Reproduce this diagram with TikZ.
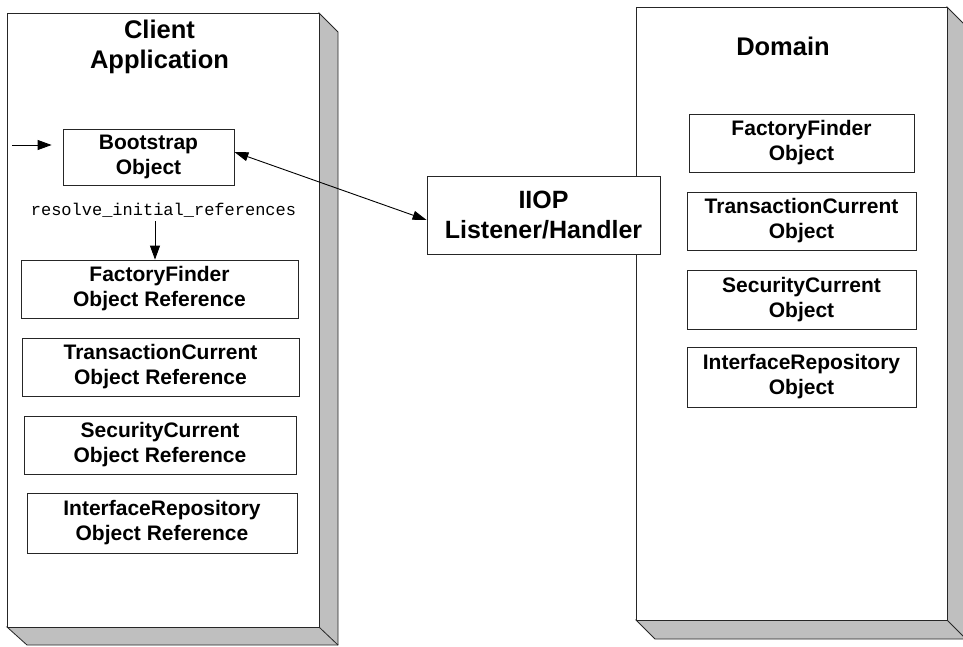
\documentclass[tikz,border=0pt]{standalone}
\usepackage{fontspec}
\setmainfont{Liberation Sans}
\setmonofont{Liberation Mono}
\usetikzlibrary{arrows.meta}
\begin{document}
\begin{tikzpicture}[x=1pt,y=-1pt,
  objbox/.style={draw=black!85, line width=0.8pt, fill=white, align=center, inner sep=0pt,
    font=\fontsize{21}{25}\selectfont\bfseries},
  titletext/.style={align=center, inner sep=0pt, font=\fontsize{25.5}{30}\selectfont\bfseries},
  arr/.style={line width=0.9pt, -{Triangle[length=14pt,width=10pt]}},
  darr/.style={line width=0.9pt, {Triangle[length=14pt,width=9pt]}-{Triangle[length=14pt,width=9pt]}},
  side/.style={fill=black!25, draw=black!85, line width=0.8pt, line join=miter},
  front/.style={fill=white, draw=black!85, line width=0.8pt}
]
\useasboundingbox (0,0) rectangle (963,646);

% Client application box (3D)
\draw[side] (319,13) -- (338,32) -- (338,645) -- (27,645) -- (7,627) -- (319,627) -- cycle;
\draw[black!85, line width=0.8pt] (319,627) -- (338,645);
\draw[front] (7,13) rectangle (319,627);

% Domain box (3D)
\draw[side] (947,7) -- (966,26) -- (966,639) -- (655,639) -- (636,620) -- (947,620) -- cycle;
\draw[black!85, line width=0.8pt] (947,620) -- (966,639);
\draw[front] (636,7) rectangle (947,620);

% Titles
\node[titletext] (clienttitle) at (159.5,47) {Client\\Application};
\node[titletext, anchor=base] (domaintitle) at (783,55) {Domain};

% Client side objects
\node[objbox, minimum width=171pt, minimum height=56pt] (boot) at (148.5,157) {Bootstrap\\Object};
\node[fill=white, inner xsep=22pt, inner ysep=4pt, font=\fontsize{17}{20}\selectfont\ttfamily] (lbl) at (163.5,210) {resolve\_initial\_references};
\node[objbox, minimum width=277pt, minimum height=58pt] (ffref) at (159.5,289) {FactoryFinder\\Object Reference};
\node[objbox, minimum width=277pt, minimum height=58pt] (tcref) at (160.5,367) {TransactionCurrent\\Object Reference};
\node[objbox, minimum width=272pt, minimum height=58pt] (scref) at (160,445) {SecurityCurrent\\Object Reference};
\node[objbox, minimum width=270pt, minimum height=60pt] (irref) at (162,523) {InterfaceRepository\\Object Reference};

% Domain objects
\node[objbox, minimum width=225pt, minimum height=58pt] (ff) at (801.5,143) {FactoryFinder\\Object};
\node[objbox, minimum width=229pt, minimum height=58pt] (tc) at (801.5,221) {TransactionCurrent\\Object};
\node[objbox, minimum width=229pt, minimum height=59pt] (sc) at (801.5,299.5) {SecurityCurrent\\Object};
\node[objbox, minimum width=229pt, minimum height=60pt] (ir) at (801.5,377) {InterfaceRepository\\Object};

% IIOP
\node[objbox, minimum width=233pt, minimum height=78pt, font=\fontsize{25}{30}\selectfont\bfseries] (iiop) at (543.5,215) {IIOP\\Listener/Handler};

% Connectors
\coordinate (entry) at (12,145);
\draw[arr, shorten >=11pt] (entry) -- (entry -| boot.west);
\draw[arr] ([xshift=-4.5pt]ffref.north |- lbl.south) -- ([xshift=-4.5pt]ffref.north);
\draw[darr] ([yshift=5pt]boot.east) -- ([yshift=-5pt]iiop.west);
\end{tikzpicture}
\end{document}
